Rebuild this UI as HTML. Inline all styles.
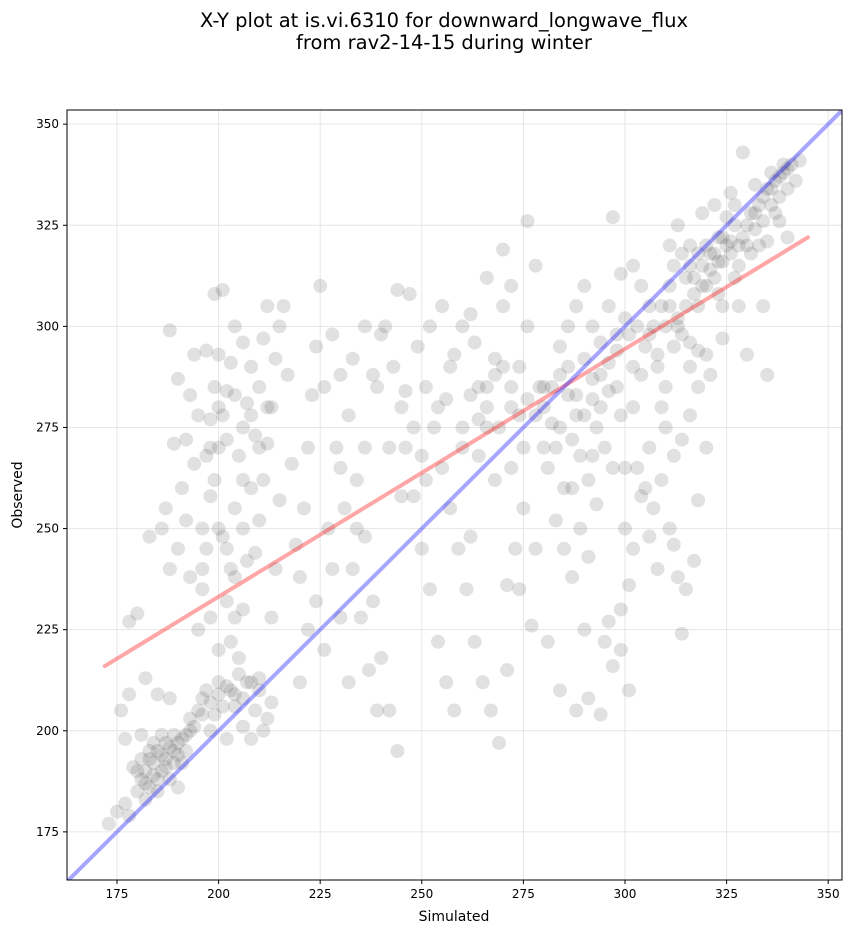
<!DOCTYPE html>
<html><head><meta charset="utf-8"><style>
html,body{margin:0;padding:0;background:#fff;}
svg{display:block;font-family:"DejaVu Sans","Liberation Sans",sans-serif;}
</style></head><body>
<svg id="chart" width="851" height="934" viewBox="0 0 851 934">
<defs><clipPath id="clip"><rect x="67" y="110" width="775" height="770"/></clipPath></defs>
<text x="444" y="27" text-anchor="middle" font-size="19.5">X-Y plot at is.vi.6310 for downward_longwave_flux</text>
<text x="444" y="49" text-anchor="middle" font-size="19.5">from rav2-14-15 during winter</text>
<g id="grid"></g>
<g id="points" clip-path="url(#clip)"></g>
<g id="lines" clip-path="url(#clip)"></g>
<rect x="67" y="110" width="775" height="770" fill="none" stroke="#000" stroke-width="1"/>
<g id="axes"></g>
<text x="454" y="921" text-anchor="middle" font-size="14">Simulated</text>
<text x="22" y="495" text-anchor="middle" font-size="14" transform="rotate(-90 22 495)">Observed</text>
</svg>
<script>
const xTicks=[175,200,225,250,275,300,325,350];
const yTicks=[175,200,225,250,275,300,325,350];
const fitLine=[[172,216],[345,322]];
const identityLine=[[160,160],[360,360]];
const simulated=[
173,175,177,178,180,181,182,183,184,185,186,187,188,189,190,191,192,193,182,184,
186,188,190,179,181,183,185,187,189,191,193,195,196,197,198,199,200,201,202,203,
204,205,206,207,208,209,210,211,212,213,185,188,176,177,178,180,178,182,183,188,
195,196,197,198,199,200,201,202,203,204,205,206,207,208,209,210,211,212,213,214,
215,216,217,218,219,220,221,222,223,224,196,197,198,199,200,201,202,203,204,205,
206,207,208,209,210,211,212,213,214,215,191,192,193,194,189,190,188,187,186,190,
193,192,194,195,197,199,201,204,206,203,
225,228,230,232,234,236,238,240,242,244,226,229,231,233,235,237,239,241,243,245,
246,248,250,252,254,256,258,247,249,251,253,255,257,259,261,263,265,267,269,271,
227,230,233,236,239,242,245,248,251,254,257,260,263,266,269,272,275,278,274,277,
262,264,266,268,270,272,266,262,258,255,220,222,224,226,228,230,232,234,236,238,
240,244,246,250,252,256,260,264,268,272,274,276,278,276,270,280,279,275,273,271,
280,282,284,286,288,290,292,294,296,298,281,283,285,287,289,291,293,295,297,299,
284,286,288,290,292,294,296,298,300,302,283,285,287,289,291,293,295,297,299,301,
281,284,288,291,294,290,287,292,
305,307,309,311,313,315,317,319,321,323,325,327,329,331,333,335,337,339,341,342,
308,310,312,314,316,318,320,322,324,326,328,330,332,334,336,338,340,304,306,302,
303,301,311,313,316,319,322,326,329,332,310,312,314,316,318,320,309,307,305,303,
300,302,304,306,308,311,313,315,317,299,301,296,314,312,318,300,302,304,306,309,
320,324,328,334,335,330,321,324,316,318,343,336,338,340,335,331,327,323,297,299,
180,181,183,184,186,187,189,190,192,194,196,198,200,202,204,206,208,210,182,185,
312,314,316,318,320,322,324,326,328,330,332,334,336,338,340,315,317,319,321,323,
311,313,306,308,310,325,327,333,337,339,
276,278,280,282,284,286,288,290,292,294,296,298,274,272,270,268,266,264,262,260,
198,200,202,204,206,208,210,212,200,202,204,206,196,198,200];
const observed=[
177,180,182,179,185,188,190,186,192,195,190,193,196,192,194,198,195,200,183,197,
199,188,186,191,199,193,188,197,199,192,203,205,208,210,200,204,212,206,198,210,
209,214,201,212,198,205,213,200,203,207,209,208,205,198,209,229,227,213,248,240,
225,235,245,258,262,270,278,284,240,255,268,275,281,290,244,252,262,271,280,292,
300,305,288,266,246,238,255,270,283,295,250,268,277,285,293,248,232,222,228,218,
230,242,260,273,285,297,305,228,240,257,260,272,283,293,271,287,299,255,250,245,
238,252,266,278,294,308,309,300,296,291,
310,298,288,278,262,248,232,218,205,195,285,270,255,240,228,215,205,300,290,280,
270,258,245,235,222,212,205,308,295,285,275,265,255,245,235,222,212,205,197,215,
250,265,292,300,285,270,258,275,262,280,290,300,296,285,275,265,255,245,235,226,
248,268,275,292,305,310,312,303,293,305,212,225,232,220,240,228,212,250,270,288,
298,309,284,268,300,282,270,285,262,280,290,300,315,326,319,270,285,270,245,236,
280,285,275,290,283,278,287,280,291,285,265,270,260,272,268,262,275,270,265,278,
295,300,305,310,300,296,305,298,302,290,252,245,238,250,243,256,222,216,230,236,
222,210,205,208,204,225,260,268,
295,300,305,310,302,312,308,315,318,322,320,325,322,328,330,334,336,338,340,336,
290,285,295,298,290,305,310,312,316,318,315,320,324,326,330,332,334,310,305,315,
300,298,320,325,320,328,330,333,343,335,275,268,272,278,285,270,262,255,260,265,
250,245,258,248,240,250,238,235,242,220,210,227,224,246,257,265,280,288,270,280,
293,305,305,305,288,293,288,297,296,294,341,338,326,322,321,318,312,308,327,313,
190,193,195,189,194,191,195,197,199,201,204,207,209,211,206,208,212,210,187,185,
315,318,315,318,320,318,322,321,320,325,328,332,334,337,339,305,312,310,314,316,
305,300,298,293,300,327,330,320,328,340,
282,278,285,276,288,283,278,292,282,288,284,294,278,285,290,288,280,277,283,275,
270,280,272,283,262,278,270,280,250,245,238,250,240,228,220];

const X0=67,X1=842,Y0=880,Y1=110;
const xMin=162.7,xMax=353.4,yMin=163.1,yMax=353.5;
function sx(v){return X0+(v-xMin)/(xMax-xMin)*(X1-X0);}
function sy(v){return Y0-(v-yMin)/(yMax-yMin)*(Y0-Y1);}
const NS="http://www.w3.org/2000/svg";
function mk(tag,attrs,parent){const e=document.createElementNS(NS,tag);for(const k in attrs)e.setAttribute(k,attrs[k]);parent.appendChild(e);return e;}
const grid=document.getElementById('grid'),axes=document.getElementById('axes');
xTicks.forEach(t=>{const x=sx(t);
 const g=mk('line',{x1:x,x2:x,y1:Y1,y2:Y0,stroke:'#e6e6e6','stroke-width':1},grid);
 
 
 const tk=mk('line',{x1:x,x2:x,y1:Y0,y2:Y0+4,stroke:'#000'},axes);
 
 
 const tl=mk('text',{x:x,y:Y0+18,'text-anchor':'middle','font-size':12},axes);
 tl.textContent=t;
 
 
});
yTicks.forEach(t=>{const y=sy(t);
 const g=mk('line',{x1:X0,x2:X1,y1:y,y2:y,stroke:'#e6e6e6','stroke-width':1},grid);
 
 
 const tk=mk('line',{x1:X0-4,x2:X0,y1:y,y2:y,stroke:'#000'},axes);
 
 
 const tl=mk('text',{x:X0-8,y:y+4,'text-anchor':'end','font-size':12},axes);
 tl.textContent=t;
 
 
});
const pg=document.getElementById('points');
const n=Math.min(simulated.length,observed.length);
for(let i=0;i<n;i++){
 const c=mk('circle',{cx:sx(simulated[i]),cy:sy(observed[i]),r:7,fill:'#333','fill-opacity':0.15},pg);
 
 
}
const lg=document.getElementById('lines');
const rl=mk('line',{x1:sx(fitLine[0][0]),y1:sy(fitLine[0][1]),x2:sx(fitLine[1][0]),y2:sy(fitLine[1][1]),stroke:'#f00','stroke-opacity':0.35,'stroke-width':4,'stroke-linecap':'round'},lg);


const bl=mk('line',{x1:sx(identityLine[0][0]),y1:sy(identityLine[0][1]),x2:sx(identityLine[1][0]),y2:sy(identityLine[1][1]),stroke:'#00f','stroke-opacity':0.35,'stroke-width':4},lg);


</script>
</body></html>
